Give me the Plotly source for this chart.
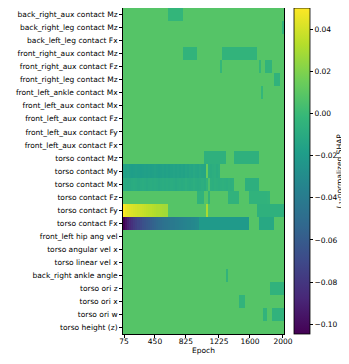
import plotly.graph_objects as go

features = [
    "back_right_aux contact Mz", "back_right_leg contact Mz", "back_left_leg contact Fx",
    "front_right_aux contact Mz", "front_right_aux contact Fz", "front_right_leg contact Mz",
    "front_left_ankle contact Mx", "front_left_aux contact Mx", "front_left_aux contact Fz",
    "front_left_aux contact Fy", "front_left_aux contact Fx", "torso contact Mz",
    "torso contact My", "torso contact Mx", "torso contact Fz", "torso contact Fy",
    "torso contact Fx", "front_left hip ang vel", "torso angular vel x", "torso linear vel x",
    "back_right ankle angle", "torso ori z", "torso ori x", "torso ori w", "torso height (z)",
]

epochs = [75, 100, 125, 150, 175, 200, 225, 250, 275, 300, 325, 350, 375, 400, 425, 450,
          475, 500, 525, 550, 575, 600, 625, 650, 675, 700, 725, 750, 775, 800, 825, 850,
          875, 900, 925, 950, 975, 1000, 1025, 1050, 1075, 1100, 1125, 1150, 1175, 1200,
          1225, 1250, 1275, 1300, 1325, 1350, 1375, 1400, 1425, 1450, 1475, 1500, 1525,
          1550, 1575, 1600, 1625, 1650, 1675, 1700, 1725, 1750, 1775, 1800, 1825, 1850,
          1875, 1900, 1925, 1950, 1975, 2000]
tick_epochs = [75, 450, 825, 1225, 1600, 2000]

background = 0.008

# leading values (from epoch 75 on) of the rows that change gradually
torso_fy = [0.050, 0.046, 0.044, 0.043, 0.042, 0.041, 0.040, 0.039, 0.038, 0.037, 0.036,
            0.035, 0.034, 0.034, 0.033, 0.032, 0.031, 0.031, 0.030, 0.029, 0.028, 0.028]
torso_fx = [-0.1046, -0.097, -0.091, -0.086, -0.082, -0.078, -0.075, -0.072, -0.069, -0.066,
            -0.064, -0.062, -0.060, -0.058, -0.056, -0.054, -0.052, -0.050, -0.049, -0.047,
            -0.046, -0.045, -0.044, -0.042, -0.041, -0.040, -0.039, -0.038, -0.037, -0.036,
            -0.035, -0.034, -0.034, -0.033, -0.032, -0.031, -0.030]
torso_my = [-0.016, -0.017, -0.016, -0.018, -0.019, -0.018, -0.017, -0.018, -0.019, -0.018,
            -0.017, -0.018, -0.017, -0.018, -0.017, -0.016, -0.017, -0.018, -0.017, -0.016,
            -0.017, -0.016, -0.017, -0.016, -0.015, -0.016, -0.015, -0.016, -0.015, -0.016,
            -0.014, -0.015, -0.013, -0.014, -0.012, -0.013, -0.014, -0.012, -0.013, -0.014,
            0.014, -0.008, -0.009, -0.008, -0.007, -0.009, -0.008]
torso_mx = [-0.010, -0.011, -0.012, -0.011, -0.010, -0.009, -0.010, -0.011, -0.010, -0.009,
            -0.010, -0.011, -0.010, -0.009, -0.010, -0.009, -0.010, -0.011, -0.010, -0.009,
            -0.010, -0.009, -0.010, -0.009, -0.010, -0.011, -0.010, -0.009, -0.010, -0.009,
            -0.008, -0.009, -0.010, -0.009, -0.008, -0.009, -0.010, -0.009, -0.008, -0.009,
            -0.004, 0.006, -0.007, -0.008, -0.006, -0.007, -0.008, -0.007, -0.006, -0.007,
            -0.008, -0.006, -0.007, -0.006]
leading = {
    "torso contact Fy": torso_fy,
    "torso contact Fx": torso_fx,
    "torso contact My": torso_my,
    "torso contact Mx": torso_mx,
}

# (feature, first epoch, last epoch, value)
patches = [
    ("back_right_aux contact Mz", 625, 775, -0.003),
    ("back_right_leg contact Mz", 2000, 2000, -0.004),
    ("front_right_aux contact Mz", 800, 950, -0.004),
    ("front_right_aux contact Mz", 1275, 1675, -0.004),
    ("front_right_aux contact Fz", 1250, 1250, -0.002),
    ("front_right_aux contact Fz", 1725, 1725, -0.002),
    ("front_right_aux contact Fz", 1800, 1850, -0.004),
    ("front_right_leg contact Mz", 1900, 1950, -0.005),
    ("front_left_ankle contact Mx", 1750, 1750, -0.002),
    ("torso contact Mz", 1050, 1300, -0.006),
    ("torso contact Mz", 1425, 1700, -0.006),
    ("torso contact Mx", 1550, 1700, -0.007),
    ("torso contact Fz", 975, 1025, -0.005),
    ("torso contact Fz", 1100, 1100, -0.004),
    ("torso contact Fz", 1350, 1450, -0.005),
    ("torso contact Fz", 1600, 1800, -0.005),
    ("torso contact Fz", 1825, 1825, -0.004),
    ("torso contact Fy", 1075, 1075, 0.030),
    ("torso contact Fy", 1700, 2000, -0.006),
    ("torso contact Fx", 1000, 1575, -0.021),
    ("torso contact Fx", 1725, 1875, -0.012),
    ("back_right ankle angle", 1325, 1325, -0.004),
    ("torso ori z", 1850, 2000, -0.005),
    ("torso ori x", 1475, 1525, -0.004),
    ("torso ori w", 1775, 1800, -0.004),
    ("torso ori w", 1875, 2000, -0.005),
]

z = []
for f in features:
    row = [background] * len(epochs)
    for i, v in enumerate(leading.get(f, [])):
        row[i] = v
    for name, e0, e1, v in patches:
        if name == f:
            for i, e in enumerate(epochs):
                if e0 <= e <= e1:
                    row[i] = v
    z.append(row)

cb_ticks = [-0.10, -0.08, -0.06, -0.04, -0.02, 0.00, 0.02, 0.04]
cb_text = [f"{t:.2f}".replace("-", "\u2212") for t in cb_ticks]

font = dict(family="DejaVu Sans", size=7.5, color="black")

fig = go.Figure(go.Heatmap(
    x=epochs, y=features, z=z,
    colorscale="Viridis", zmin=-0.1046, zmax=0.0500,
    colorbar=dict(
        x=1.062, xanchor="left", xpad=0, y=0.5, yanchor="middle", ypad=0,
        len=1, lenmode="fraction", thickness=16,
        outlinewidth=0.8, outlinecolor="black",
        tickvals=cb_ticks, ticktext=cb_text, ticks="outside", ticklen=3,
        tickcolor="black", tickfont=font,
    ),
))

# colorbar label and x title as annotations, so they stay inside the page
fig.add_annotation(
    text="<i>L</i><sub>1</sub>-normalized SHAP", textangle=-90,
    xref="paper", yref="paper", x=1.345, y=0.5, xanchor="center", yanchor="middle",
    showarrow=False, font=font,
)
fig.add_annotation(
    text="Epoch", xref="paper", yref="paper", x=0.5, y=-0.05,
    xanchor="center", yanchor="middle", showarrow=False, font=font,
)

# the page body adds an 8px offset, so the figure is 8px smaller than the window
fig.update_layout(
    width=341, height=356,
    margin=dict(l=114.5, r=65, t=0, b=30, autoexpand=False),
    paper_bgcolor="white", plot_bgcolor="white",
    font=font,
    xaxis=dict(
        range=[62.5, 2012.5], tickvals=tick_epochs, ticks="outside", ticklen=3,
        ticklabelstandoff=-3,
        tickcolor="black", showline=True, mirror=True, linecolor="black", linewidth=0.8,
        showgrid=False, zeroline=False,
    ),
    yaxis=dict(
        type="category", autorange="reversed", ticks="outside", ticklen=3,
        tickcolor="black", showline=True, mirror=True, linecolor="black", linewidth=0.8,
        showgrid=False, zeroline=False,
    ),
)

fig.write_html("out.html")
